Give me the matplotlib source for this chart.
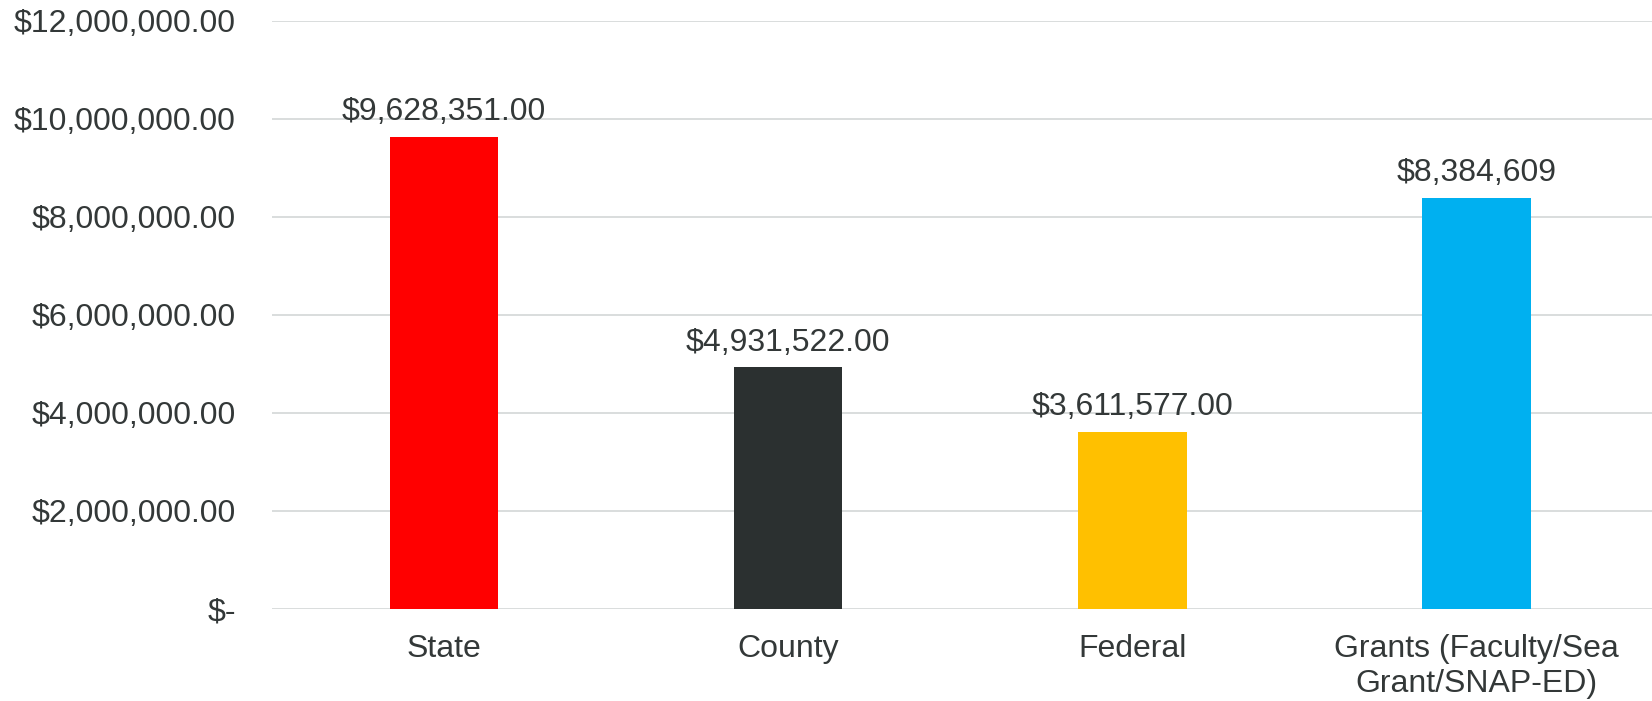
import matplotlib
matplotlib.use("Agg")
import matplotlib.pyplot as plt
from matplotlib.ticker import FuncFormatter

categories = ["State", "County", "Federal", "Grants (Faculty/Sea\nGrant/SNAP-ED)"]
values = [9628351, 4931522, 3611577, 8384609]
value_labels = ["$9,628,351.00", "$4,931,522.00", "$3,611,577.00", "$8,384,609"]
colors = ["#FF0000", "#2B3030", "#FFC000", "#00B0F0"]
yticks = [0, 2000000, 4000000, 6000000, 8000000, 10000000, 12000000]

plt.rcParams['font.family'] = ['Liberation Sans', 'DejaVu Sans']
text_color = "#333838"
fs = 23

fig = plt.figure(figsize=(16.52, 7.01), dpi=100)
fig.patch.set_facecolor("white")
ax = fig.add_axes([272/1652, 1 - 609/701, (1652 - 272)/1652, (609 - 21)/701])
ax.set_facecolor("none")

x = list(range(len(categories)))
ax.bar(x, values, width=0.315, color=colors, zorder=3)
for xi, v, lab in zip(x, values, value_labels):
    ax.annotate(lab, (xi, v), xytext=(0, 7), textcoords="offset points",
                ha="center", va="bottom", fontsize=fs, color=text_color)

ax.set_xlim(-0.5, len(categories) - 0.5 + 0.01)
ax.set_ylim(0, 12000000)
ax.set_yticks(yticks)

def fmt(v, pos):
    if v == 0:
        return "$-"
    return "${:,.2f}".format(v)

ax.yaxis.set_major_formatter(FuncFormatter(fmt))
ax.set_xticks(x)
ax.set_xticklabels(categories, fontsize=fs, color=text_color, linespacing=1.2)
ax.tick_params(axis="y", labelsize=fs, labelcolor=text_color, length=0, pad=26)
ax.tick_params(axis="x", length=0, pad=18)
ax.grid(axis="y", color="#D9DDDD", linewidth=1.4, zorder=0)
ax.set_axisbelow(True)
for s in ["top", "right", "left", "bottom"]:
    ax.spines[s].set_visible(False)

fig.savefig("out.png", dpi=100, facecolor="white")
